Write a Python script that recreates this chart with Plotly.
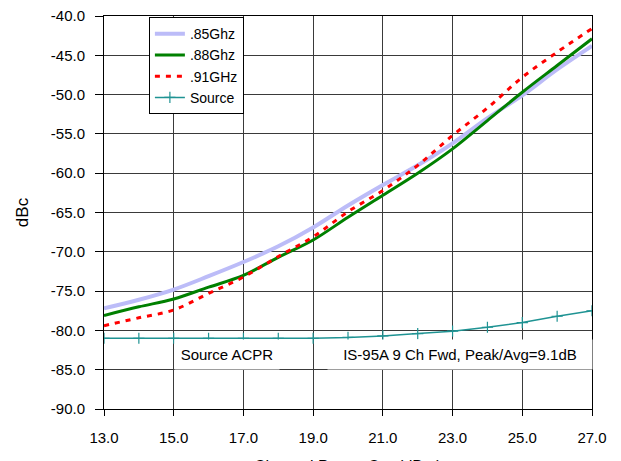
import plotly.graph_objects as go

# Channel power out (dBm)
power_dbm = [13, 14, 15, 16, 17, 18, 19, 20, 21, 22, 23, 24, 25, 26, 27]

# ACPR (dBc) per frequency
acpr_085 = [-77.2, -76.1, -74.8, -73.1, -71.3, -69.3, -66.9, -64.1, -61.5, -59.0, -56.2, -53.0, -50.1, -46.8, -43.8]
acpr_088 = [-78.1, -77.0, -76.0, -74.5, -73.0, -70.7, -68.5, -65.6, -62.8, -60.0, -56.9, -53.3, -49.7, -46.3, -42.9]
acpr_091 = [-79.4, -78.4, -77.4, -75.3, -73.2, -70.6, -68.1, -64.9, -62.2, -59.0, -55.2, -51.7, -47.8, -44.6, -41.6]
acpr_source = [-81.0, -81.0, -81.0, -81.0, -81.0, -81.0, -81.0, -80.9, -80.7, -80.4, -80.1, -79.6, -79.0, -78.2, -77.5]

x_ticks = [13, 15, 17, 19, 21, 23, 25, 27]
y_ticks = [-90, -85, -80, -75, -70, -65, -60, -55, -50, -45, -40]

FONT = "Liberation Sans, Arial, sans-serif"
GRID = "#3a3a3a"

fig = go.Figure()

fig.add_trace(go.Scatter(
    x=power_dbm, y=acpr_085, name=".85Ghz", mode="lines",
    line=dict(color="#bcbcf8", width=4, shape="spline"),
))
fig.add_trace(go.Scatter(
    x=power_dbm, y=acpr_088, name=".88Ghz", mode="lines",
    line=dict(color="#008000", width=3, shape="spline"),
))
fig.add_trace(go.Scatter(
    x=power_dbm, y=acpr_091, name=".91GHz", mode="lines",
    line=dict(color="#ff0000", width=3, dash="5px,6px", shape="spline"),
))
fig.add_trace(go.Scatter(
    x=power_dbm, y=acpr_source, name="Source", mode="lines+markers",
    line=dict(color="#1f9393", width=1.5),
    marker=dict(symbol="cross-thin", size=8, line=dict(color="#1f9393", width=1.2)),
))

# text boxes on the plot
fig.add_annotation(
    x=16.53, y=-83.1, xref="x", yref="y", text="Source ACPR", showarrow=False,
    bgcolor="white", width=104, height=29, borderpad=0,
    font=dict(family=FONT, size=15, color="black"),
)
fig.add_annotation(
    x=23.21, y=-83.1, xref="x", yref="y", text="IS-95A 9 Ch Fwd, Peak/Avg=9.1dB", showarrow=False,
    bgcolor="white", width=264, height=29, borderpad=0,
    font=dict(family=FONT, size=15, color="black"),
)

# x axis title, partly cut off by the bottom edge as in the source picture
fig.add_annotation(
    x=0.5, y=0, xref="paper", yref="paper", yanchor="top", yshift=-47,
    text="Channel Power Out (dBm)", showarrow=False,
    font=dict(family=FONT, size=16, color="black"),
)

fig.update_xaxes(
    range=[13, 27], tickvals=x_ticks, ticktext=[f"{v:.1f}" for v in x_ticks],
    showgrid=True, gridcolor=GRID, gridwidth=1,
    showline=True, linecolor="black", linewidth=1, mirror=True,
    ticks="outside", ticklen=6, tickcolor="black", ticklabelstandoff=9,
    zeroline=False, automargin=False, ticklabeloverflow="allow",
    tickfont=dict(family=FONT, size=15, color="black"),
)
fig.update_yaxes(
    range=[-90, -40], tickvals=y_ticks, ticktext=[f"{v:.1f}" for v in y_ticks],
    showgrid=True, gridcolor=GRID, gridwidth=1,
    showline=True, linecolor="black", linewidth=1, mirror=True,
    ticks="outside", ticklen=8, tickcolor="black", ticklabelstandoff=7,
    zeroline=False, automargin=False, ticklabeloverflow="allow",
    tickfont=dict(family=FONT, size=15, color="black"),
    title=dict(text="dBc", font=dict(family=FONT, size=17, color="black"), standoff=17),
)

fig.update_layout(
    width=621, height=461,
    margin=dict(l=96, r=37, t=8, b=60),
    plot_bgcolor="white", paper_bgcolor="white",
    font=dict(family=FONT, color="black"),
    legend=dict(
        x=0.092, y=0.997, xanchor="left", yanchor="top",
        bgcolor="white", bordercolor="black", borderwidth=1,
        font=dict(family=FONT, size=14, color="black"),
        tracegroupgap=0,
    ),
)

fig.write_html("out.html")
